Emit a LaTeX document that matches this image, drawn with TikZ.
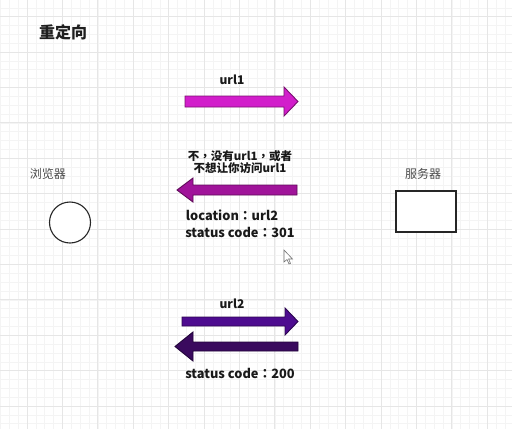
\documentclass[tikz,border=0pt]{standalone}
\usepackage{fontspec}
\setmainfont{Noto Sans CJK SC}
\newfontfamily\tcfont{Noto Sans CJK TC}
\newcommand{\tcpunct}[1]{{\tcfont\bfseries #1}}
\begin{document}
\begin{tikzpicture}[x=1pt,y=-1pt,
  lbl/.style={font=\fontsize{12}{14}\selectfont\bfseries, text=black!90, inner sep=0pt},
  biglbl/.style={font=\fontsize{12.8}{14}\selectfont\bfseries, text=black!90, inner sep=0pt},
  side/.style={font=\fontsize{12}{14}\selectfont, text=black!70, inner sep=0pt},
  barrow/.style={line width=0.9pt, line join=miter}]
\definecolor{minorg}{HTML}{F4F4F4}
\definecolor{majorg}{HTML}{E6E6E6}
\definecolor{aone}{HTML}{D21ECB}
\definecolor{aoneb}{HTML}{7A1070}
\definecolor{atwo}{HTML}{A0149A}
\definecolor{atwob}{HTML}{5E0A58}
\definecolor{athree}{HTML}{4E0C90}
\definecolor{athreeb}{HTML}{2C0650}
\definecolor{afour}{HTML}{3A0A5E}
\definecolor{afourb}{HTML}{22053A}
\useasboundingbox (0,0) rectangle (512,429);
\fill[white] (0,0) rectangle (512,429);
% grid
\foreach \i in {0,...,60} {
  \pgfmathsetmacro{\xx}{-8.4+8.85*\i}
  \draw[minorg, line width=0.5pt] (\xx,0) -- (\xx,429);
}
\foreach \i in {0,...,50} {
  \pgfmathsetmacro{\yy}{-18.8+8.85*\i}
  \draw[minorg, line width=0.5pt] (0,\yy) -- (512,\yy);
}
\foreach \i in {0,...,15} {
  \pgfmathsetmacro{\xx}{-8.4+35.4*\i}
  \draw[majorg, line width=0.7pt] (\xx,0) -- (\xx,429);
}
\foreach \i in {0,...,13} {
  \pgfmathsetmacro{\yy}{-18.8+35.4*\i}
  \draw[majorg, line width=0.7pt] (0,\yy) -- (512,\yy);
}
% title
\node[font=\fontsize{16}{18}\selectfont\bfseries, text=black!88, inner sep=0pt] (title) at (63,32) {重定向};
% browser and server
\node[side] (blabel) at (48,174) {浏览器};
\node[circle, draw=black!85, line width=1.1pt, fill=white, minimum size=41pt, inner sep=0pt] (browser) at (70,222.5) {};
\node[side] (slabel) at (423,174) {服务器};
\node[rectangle, draw=black!85, line width=1.1pt, fill=white, minimum width=60pt, minimum height=41pt, inner sep=0pt] (server) at (426,211.5) {};
% arrow 1: url1 (right)
\filldraw[barrow, fill=aone, draw=aoneb] (185,96) -- (284,96) -- (284,87) -- (298,101.5) -- (284,116) -- (284,107) -- (185,107) -- cycle;
\node[lbl] (t1) at (232,80) {url1};
% arrow 2: left
\node[lbl, align=center, font=\fontsize{11.5}{12.5}\selectfont\bfseries] (t2) at (240,162) {不\tcpunct{，}没有url1\tcpunct{，}或者\\不想让你访问url1};
\filldraw[barrow, fill=atwo, draw=atwob] (297,185) -- (193,185) -- (193,178) -- (177,190) -- (193,202) -- (193,195) -- (297,195) -- cycle;
\node[biglbl] (t3) at (232,215) {location\tcpunct{：}url2};
\node[biglbl] (t4) at (240,232) {status code\tcpunct{：}301};
% arrow 3: url2 (right)
\node[lbl] (t5) at (232,304) {url2};
\filldraw[barrow, fill=athree, draw=athreeb] (182,317) -- (285,317) -- (285,308) -- (298,321.5) -- (285,335) -- (285,326) -- (182,326) -- cycle;
% arrow 4: left
\filldraw[barrow, fill=afour, draw=afourb] (298,342) -- (193,342) -- (193,332) -- (175,346.5) -- (193,361) -- (193,351) -- (298,351) -- cycle;
\node[biglbl] (t6) at (240,373) {status code\tcpunct{：}200};
% cursor
\filldraw[fill=white, draw=black!55, line width=0.6pt] (284,250) -- (284,262) -- (287,259.5) -- (289,264) -- (290.5,263.3) -- (288.6,259) -- (292.5,259) -- cycle;
\end{tikzpicture}
\end{document}
